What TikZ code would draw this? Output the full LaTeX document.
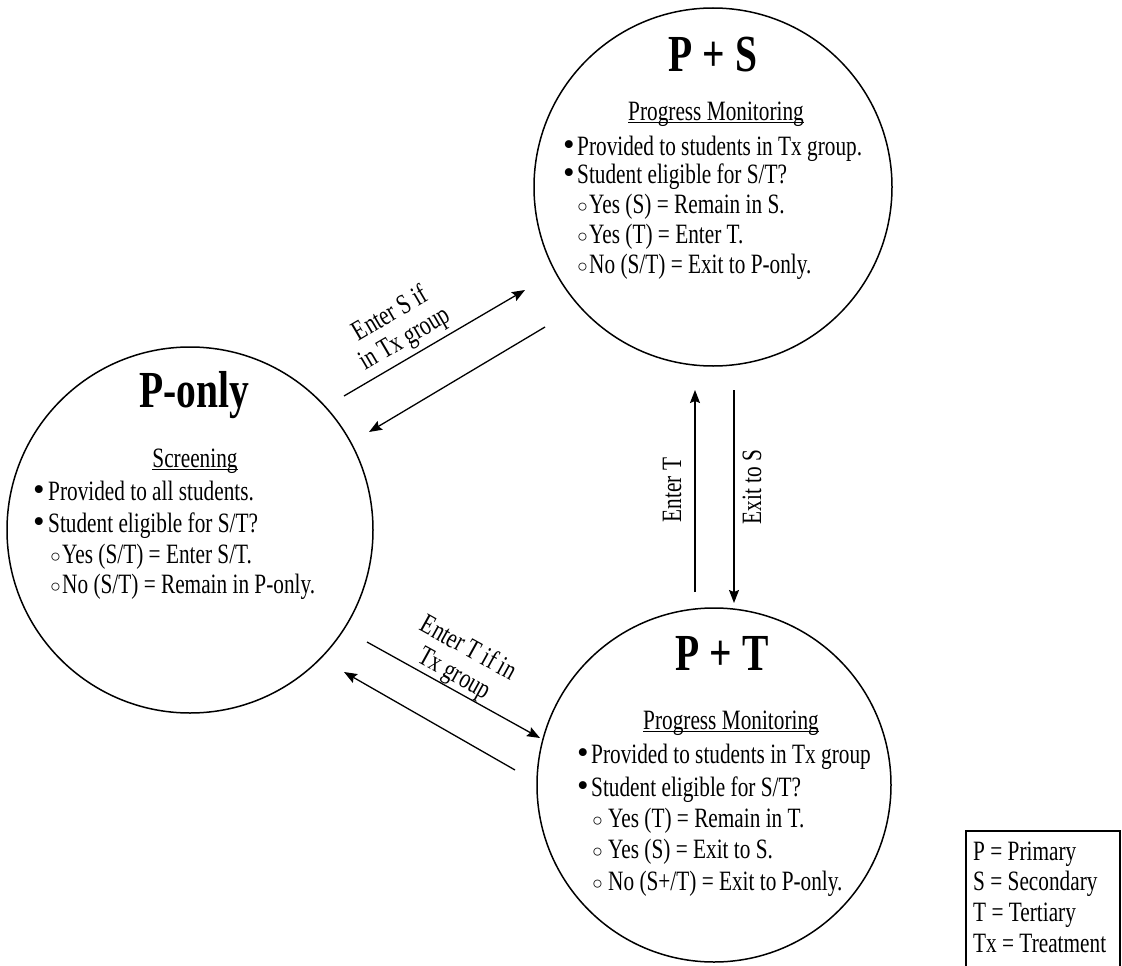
\documentclass[tikz,border=0pt]{standalone}
\usepackage{fontspec}
\setmainfont{Liberation Serif}[FakeStretch=0.76]
\newfontfamily\symfont{Liberation Serif}
\usetikzlibrary{arrows.meta}

% bullet marks and underlined headings
\newcommand\bul[1]{\makebox[#1][l]{\symfont\fontsize{33}{33}\selectfont •}}
\newcommand\hol[1]{\makebox[#1][l]{\raisebox{1pt}{\symfont\fontsize{18}{18}\selectfont ○}}}
\newcommand\uln[1]{\setbox0\hbox{#1}\rlap{\rule[-3pt]{\wd0}{1.1pt}}\box0}

\tikzset{
  stage/.style={circle, draw, line width=1.5pt, inner sep=0pt, outer sep=0pt},
  title/.style={font=\fontsize{52}{56}\selectfont\bfseries, anchor=base, inner sep=0pt},
  head/.style={font=\fontsize{28}{30}\selectfont, anchor=base, inner sep=0pt},
  body/.style={font=\fontsize{28}{30}\selectfont, anchor=base west, inner sep=0pt},
  lbl/.style={font=\fontsize{28}{29}\selectfont, align=center, inner sep=0pt},
  flow/.style={line width=1.3pt, -{Stealth[length=13pt,width=10pt,inset=2pt]}},
}

\begin{document}
\begin{tikzpicture}[x=1pt,y=-1pt]
\useasboundingbox[fill=white] (0,0) rectangle (1122,966);

% the three stages
\node[stage, minimum size=358pt] (ps) at (713,187) {};
\node[stage, minimum size=366pt] (po) at (190,530) {};
\node[stage, minimum size=354pt] (pt) at (714,785) {};

% P + S
\node[title] (ps-t) at (713,72) {P + S};
\node[head] (ps-h) at (716,120) {\uln{Progress Monitoring}};
\node[body] (ps-1) at (563,155) {\bul{14pt}Provided to students in Tx group.};
\node[body] (ps-2) at (563,183) {\bul{14pt}Student eligible for S/T?};
\node[body] (ps-3) at (577,213) {\hol{12pt}Yes (S) = Remain in S.};
\node[body] (ps-4) at (577,243) {\hol{12pt}Yes (T) = Enter T.};
\node[body] (ps-5) at (577,273) {\hol{12pt}No (S/T) = Exit to P-only.};

% P-only
\node[title] (po-t) at (194,407) {P-only};
\node[head] (po-h) at (195,467) {\uln{Screening}};
\node[body] (po-1) at (33,500) {\bul{15pt}Provided to all students.};
\node[body] (po-2) at (33,532) {\bul{15pt}Student eligible for S/T?};
\node[body] (po-3) at (50,563) {\hol{12pt}Yes (S/T) = Enter S/T.};
\node[body] (po-4) at (50,593) {\hol{12pt}No (S/T) = Remain in P-only.};

% P + T
\node[title] (pt-t) at (722,670) {P + T};
\node[head] (pt-h) at (731,729) {\uln{Progress Monitoring}};
\node[body] (pt-1) at (577,763) {\bul{14pt}Provided to students in Tx group};
\node[body] (pt-2) at (577,796) {\bul{14pt}Student eligible for S/T?};
\node[body] (pt-3) at (592,827) {\hol{16pt}Yes (T) = Remain in T.};
\node[body] (pt-4) at (592,858) {\hol{16pt}Yes (S) = Exit to S.};
\node[body] (pt-5) at (592,890) {\hol{16pt}No (S+/T) = Exit to P-only.};

% transition arrow ends
\coordinate (a1s) at (344,396); \coordinate (a1e) at (525,290);
\coordinate (a2s) at (545,327); \coordinate (a2e) at (369,432);
\coordinate (a3s) at (367,642); \coordinate (a3e) at (540,738);
\coordinate (a4s) at (515,770); \coordinate (a4e) at (344,672);
\coordinate (a5s) at (695,592); \coordinate (a5e) at (695,390);
\coordinate (a6s) at (734,390); \coordinate (a6e) at (734,603);

\draw[flow] (a1s) -- (a1e);
\draw[flow] (a2s) -- (a2e);
\draw[flow] (a3s) -- (a3e);
\draw[flow] (a4s) -- (a4e);
\draw[flow] (a5s) -- (a5e);
\draw[flow] (a6s) -- (a6e);

% transition labels
\node[lbl, rotate=30.4] (l1) at (398,327) {Enter S if\\in Tx group};
\node[lbl, rotate=-29] (l2) at (461,662) {Enter T if in\\Tx group};
\node[lbl, rotate=90] (l3) at (672,490) {Enter T};
\node[lbl, rotate=90] (l4) at (752,487) {Exit to S};

% legend
\draw[line width=1.2pt] (966,970) -- (966,831) -- (1120,831) -- (1120,970);
\node[body] (k1) at (973,860) {P = Primary};
\node[body] (k2) at (973,890) {S = Secondary};
\node[body] (k3) at (973,921) {T = Tertiary};
\node[body] (k4) at (973,952) {Tx = Treatment};
\end{tikzpicture}
\end{document}
